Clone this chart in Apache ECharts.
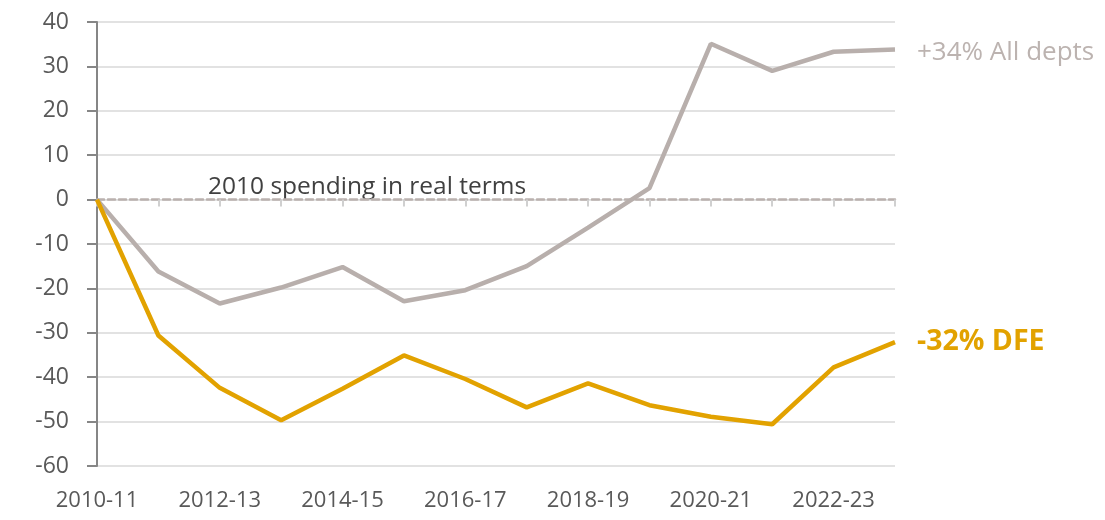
<!DOCTYPE html>
<html>
<head>
<meta charset="utf-8">
<script src="https://cdn.jsdelivr.net/npm/echarts@6/dist/echarts.min.js"></script>
<style>
  html, body { margin: 0; padding: 0; background: #fff; }
  #chart { width: 1105px; height: 520px; }
</style>
</head>
<body>
<div id="chart"></div>
<script>
// years on the x axis
var years = ["2010-11", "2011-12", "2012-13", "2013-14", "2014-15", "2015-16", "2016-17",
  "2017-18", "2018-19", "2019-20", "2020-21", "2021-22", "2022-23", "2023-24"];
// % change in real spending vs 2010
var allDepts = [0, -16.2, -23.4, -19.8, -15.2, -22.9, -20.4, -15.0, -6.3, 2.6, 35.1, 29.0, 33.3, 33.8];
var dfe = [0, -30.6, -42.4, -49.7, -42.6, -35.1, -40.4, -46.8, -41.4, -46.3, -48.9, -50.6, -37.8, -32.1];
var yTicks = [-60, -50, -40, -30, -20, -10, 0, 10, 20, 30, 40];

var font = "Open Sans";
var greyCol = "#b8afac";
var orangeCol = "#e2a200";

var myChart = echarts.init(document.getElementById("chart"));

var option = {
  backgroundColor: "#fff",
  animation: false,
  grid: { left: 97, right: 210, top: 22, bottom: 54 },
  xAxis: [
    {
      // labels at the bottom
      type: "category",
      data: years,
      boundaryGap: false,
      position: "bottom",
      axisLine: { show: false, onZero: false },
      axisTick: { show: false },
      splitLine: { show: false },
      axisLabel: { interval: 1, margin: 24, fontSize: 22, color: "#595959", fontFamily: font }
    },
    {
      // dashed zero line with ticks
      type: "category",
      data: years,
      boundaryGap: false,
      position: "bottom",
      axisLine: { show: true, onZero: true, lineStyle: { type: [7, 4], color: "#bab1ae", width: 2.5 } },
      axisTick: { show: true, length: 7, lineStyle: { color: "#d0d0d0", width: 2 } },
      axisLabel: { show: false },
      splitLine: { show: false }
    }
  ],
  yAxis: {
    type: "value",
    min: yTicks[0],
    max: yTicks[yTicks.length - 1],
    interval: 10,
    axisLine: { show: true, lineStyle: { color: "#868686", width: 2 } },
    axisTick: { show: true, length: 10, lineStyle: { color: "#868686", width: 2 } },
    axisLabel: { margin: 28, fontSize: 23, color: "#595959", fontFamily: font },
    splitLine: { lineStyle: { color: "#d9d9d9", width: 1.5 } }
  },
  graphic: [
    {
      type: "text",
      left: 208,
      top: 175,
      style: { text: "2010 spending in real terms", fontSize: 24.5, fill: "#404040", fontFamily: font }
    }
  ],
  series: [
    {
      name: "All depts",
      type: "line",
      data: allDepts,
      symbol: "none",
      z: 3,
      lineStyle: { color: greyCol, width: 4.5 },
      endLabel: {
        show: true,
        distance: 22,
        offset: [0, 3],
        formatter: "+34% All depts",
        color: "#bcb3b0",
        fontSize: 26,
        fontFamily: font
      }
    },
    {
      name: "DFE",
      type: "line",
      data: dfe,
      symbol: "none",
      z: 4,
      lineStyle: { color: orangeCol, width: 4.5 },
      endLabel: {
        show: true,
        distance: 22,
        formatter: "-32% DFE",
        color: orangeCol,
        fontSize: 28.5,
        fontWeight: "bold",
        fontFamily: font
      }
    }
  ]
};
myChart.setOption(option);

window.addEventListener("resize", function () {
  myChart.resize();
});
</script>
</body>
</html>
